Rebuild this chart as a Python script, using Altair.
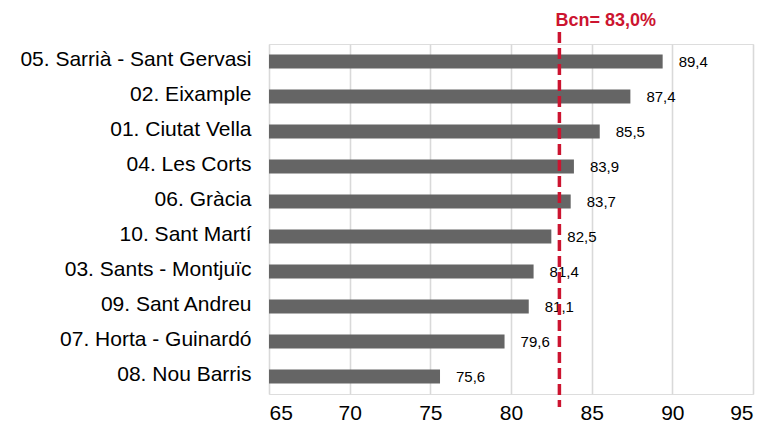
import altair as alt
import pandas as pd

districts = [
    "05. Sarrià - Sant Gervasi",
    "02. Eixample",
    "01. Ciutat Vella",
    "04. Les Corts",
    "06. Gràcia",
    "10. Sant Martí",
    "03. Sants - Montjuïc",
    "09. Sant Andreu",
    "07. Horta - Guinardó",
    "08. Nou Barris",
]
values = [89.4, 87.4, 85.5, 83.9, 83.7, 82.5, 81.4, 81.1, 79.6, 75.6]
bcn_value = 83.0
bcn_label = "Bcn= 83,0%"
x_ticks = [65, 70, 75, 80, 85, 90, 95]

df = pd.DataFrame({
    "district": districts,
    "value": values,
    "label": [f"{v:.1f}".replace(".", ",") for v in values],
})
ref = pd.DataFrame({"value": [bcn_value], "label": [bcn_label]})

FONT = "Liberation Sans"
RED = "#cc1430"

x_scale = alt.Scale(domain=[65, 95], nice=False, zero=False)
y_enc = alt.Y(
    "district:N",
    sort=districts,
    scale=alt.Scale(paddingInner=0.6, paddingOuter=0.3),
    axis=alt.Axis(
        title=None, ticks=False, domain=False, labelFontSize=21,
        labelColor="#000000", labelFont=FONT, labelPadding=18,
        labelLimit=400, labelOffset=-2,
    ),
)

bars = alt.Chart(df).mark_bar(color="#656565").encode(
    x=alt.X(
        "value:Q", scale=x_scale,
        axis=alt.Axis(
            title=None, values=x_ticks, ticks=False, domain=False,
            grid=True, gridColor="#d9d9d9", gridWidth=1.6,
            labelFontSize=21, labelColor="#000000", labelFont=FONT,
            labelPadding=8,
        ),
    ),
    x2=alt.datum(65),
    y=y_enc,
)

labels = alt.Chart(df).mark_text(
    align="left", baseline="middle", dx=16, fontSize=15, font=FONT, color="#000000"
).encode(
    x=alt.X("value:Q", scale=x_scale),
    y=y_enc,
    text="label:N",
)

rule = alt.Chart(ref).mark_rule(
    color=RED, strokeWidth=3.5, strokeDash=[11, 5]
).encode(
    x=alt.X("value:Q", scale=x_scale),
    y=alt.value(-12),
    y2=alt.value(363),
)

ref_text = alt.Chart(ref).mark_text(
    align="left", baseline="alphabetic", dx=-4, fontSize=18, fontWeight="bold",
    font=FONT, color=RED,
).encode(
    x=alt.X("value:Q", scale=x_scale),
    y=alt.value(-18),
    text="label:N",
)

chart = alt.layer(bars, labels, rule, ref_text).properties(
    width=484,
    height=350,
    autosize=alt.AutoSizeParams(type="none"),
    padding={"left": 261, "top": 36, "right": 10, "bottom": 32},
).configure_view(stroke=None).configure(background="#ffffff")

chart.save("out.html", embed_options={"renderer": "svg", "actions": False})
